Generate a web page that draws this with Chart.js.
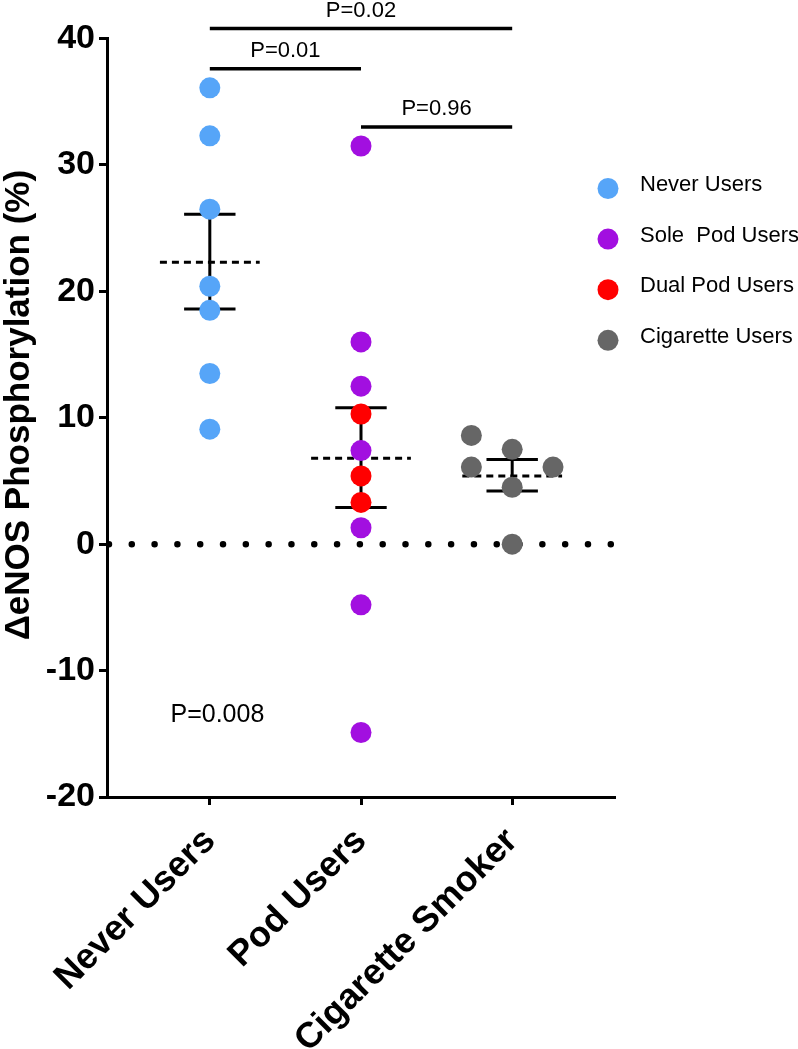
<!DOCTYPE html>
<html>
<head>
<meta charset="utf-8">
<script src="https://cdn.jsdelivr.net/npm/chart.js@4.4.1/dist/chart.umd.min.js"></script>
<style>
html,body{margin:0;padding:0;background:#fff;}
#wrap{width:798px;height:1049px;}
</style>
</head>
<body>
<div id="wrap"><canvas id="chart" width="798" height="1049"></canvas></div>
<script>
// ---- data ----
const categories = ["Never Users", "Pod Users", "Cigarette Smoker"];
const neverUsers = [36.1, 32.3, 26.5, 20.4, 18.5, 13.5, 9.1];
const solePodUsers = [31.5, 16.0, 12.5, 7.4, 1.3, -4.8, -14.9];
const dualPodUsers = [10.3, 5.4, 3.3];
const cigaretteUsers = [8.6, 6.1, 7.5, 4.5, 6.1, 0.0];
const cigaretteJitter = [-0.27, -0.27, 0, 0, 0.27, 0];
const groupMeans = [22.3, 6.8, 5.4];
const errTop = [26.1, 10.8, 6.7];
const errBottom = [18.6, 2.9, 4.2];
const yTicks = [-20, -10, 0, 10, 20, 30, 40];
const bracketFrom = [1, 1, 2];
const bracketTo = [3, 2, 3];
const bracketY = [40.8, 37.6, 33.0];
const bracketText = ["P=0.02", "P=0.01", "P=0.96"];
const overallP = "P=0.008";
const yTitle = "ΔeNOS Phosphorylation (%)";
const legendNames = ["Never Users", "Sole  Pod Users", "Dual Pod Users", "Cigarette Users"];

const FONT = "'Liberation Sans', Arial, Helvetica, sans-serif";
const COLORS = ["#56A5F8", "#A20FE0", "#FF0000", "#666666"];
const MEAN_HALF = 0.33, CAP_HALF = 0.17;

function pts(vals, x, jit){
    return vals.map((v,i)=>({x: x + (jit ? jit[i] : 0), y: v}));
}
function dotSet(label, data, color){
    return {type:"scatter", label, data, backgroundColor:color, borderColor:color, borderWidth:0,
        pointRadius:10.5, pointHoverRadius:10.5, order:0, clip:false};
}
function lineSet(data, extra){
    return Object.assign({type:"line", data, borderColor:"#000", borderWidth:3, pointRadius:0,
        fill:false, spanGaps:false, tension:0, order:1, clip:false}, extra);
}

// error bars (mean +/- SEM) and dashed mean lines
const errData = [], meanData = [];
groupMeans.forEach((m,i)=>{
    const x = i+1;
    errData.push({x:x-CAP_HALF,y:errTop[i]},{x:x+CAP_HALF,y:errTop[i]},{x:x,y:null},
        {x:x,y:errTop[i]},{x:x,y:errBottom[i]},{x:x,y:null},
        {x:x-CAP_HALF,y:errBottom[i]},{x:x+CAP_HALF,y:errBottom[i]},{x:x,y:null});
    meanData.push({x:x-MEAN_HALF,y:m},{x:x+MEAN_HALF,y:m},{x:x,y:null});
});
const bracketData = [];
bracketFrom.forEach((f,i)=>{
    bracketData.push({x:f,y:bracketY[i]},{x:bracketTo[i],y:bracketY[i]},{x:f,y:null});
});

const datasets = [
    dotSet(legendNames[0], pts(neverUsers,1), COLORS[0]),
    dotSet(legendNames[1], pts(solePodUsers,2), COLORS[1]),
    dotSet(legendNames[2], pts(dualPodUsers,2), COLORS[2]),
    dotSet(legendNames[3], pts(cigaretteUsers,3,cigaretteJitter), COLORS[3]),
    lineSet(errData, {}),
    lineSet(meanData, {borderDash:[7,5]}),
    lineSet(bracketData, {borderWidth:3.5}),
    lineSet([{x:0.333,y:0},{x:3.665,y:0}], {borderWidth:6.5, borderDash:[0.01,22.8], borderCapStyle:"round", order:2})
];

const annotations = {
    id:"annotations",
    afterDraw(chart){
        const {ctx, scales:{x, y}} = chart;
        ctx.save();
        ctx.fillStyle = "#000";
        ctx.textAlign = "center";
        ctx.textBaseline = "alphabetic";
        ctx.font = "22px " + FONT;
        bracketText.forEach((t,i)=>{
            const cx = (x.getPixelForValue(bracketFrom[i]) + x.getPixelForValue(bracketTo[i]))/2;
            ctx.fillText(t, cx, y.getPixelForValue(bracketY[i]) - 11.5);
        });
        ctx.font = "25px " + FONT;
        ctx.fillText(overallP, x.getPixelForValue(1.05), y.getPixelForValue(-14.05));

        // y axis title
        ctx.save();
        ctx.translate(19, y.getPixelForValue(11));
        ctx.rotate(-Math.PI/2);
        ctx.textBaseline = "middle";
        ctx.font = "bold 35px " + FONT;
        ctx.fillText(yTitle, 0, 0);
        ctx.restore();

        // legend
        ctx.textAlign = "left";
        ctx.font = "22px " + FONT;
        legendNames.forEach((name,i)=>{
            const ly = 188.5 + i*50.6;
            ctx.fillStyle = COLORS[i];
            ctx.beginPath();
            ctx.arc(608, ly, 10.5, 0, Math.PI*2);
            ctx.fill();
            ctx.fillStyle = "#000";
            ctx.fillText(name, 640, ly + 2.5);
        });
        ctx.restore();
    }
};

new Chart(document.getElementById("chart"), {
    data:{datasets},
    options:{
        responsive:false,
        animation:false,
        layout:{padding:{top:38.5, right:183, left:0, bottom:0}},
        plugins:{legend:{display:false}, tooltip:{enabled:false}},
        scales:{
            x:{
                type:"linear", min:0.32, max:3.68,
                afterBuildTicks: s => { s.ticks = categories.map((c,i)=>({value:i+1})); },
                afterFit: s => { s.height = 252; },
                grid:{drawOnChartArea:false, drawTicks:true, tickLength:8, tickWidth:3, tickColor:"#000"},
                border:{display:true, color:"#000", width:3},
                ticks:{autoSkip:false, minRotation:45, maxRotation:45, padding:15, color:"#000",
                    font:{family:FONT, size:36, weight:"bold"},
                    callback: v => categories[v-1]}
            },
            y:{
                type:"linear", min:-20, max:40,
                afterBuildTicks: s => { s.ticks = yTicks.map(v=>({value:v})); },
                afterFit: s => { s.width = 107; },
                grid:{drawOnChartArea:false, drawTicks:true, tickLength:8, tickWidth:3, tickColor:"#000"},
                border:{display:true, color:"#000", width:3},
                ticks:{color:"#000", padding:4, font:{family:FONT, size:34, weight:"bold"}}
            }
        }
    },
    plugins:[annotations]
});
</script>
</body>
</html>
